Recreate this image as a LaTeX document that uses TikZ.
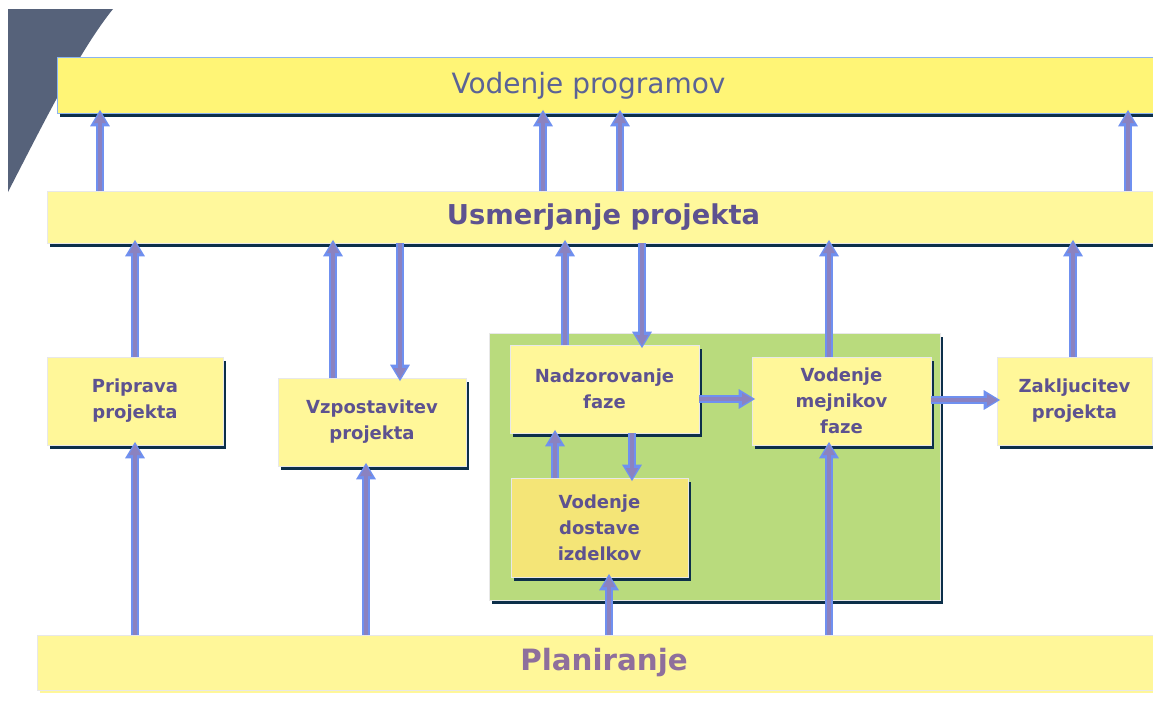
\documentclass[tikz,border=0pt]{standalone}
\usepackage{fontspec}
\setmainfont{DejaVu Sans}
\usetikzlibrary{arrows.meta,shadows,calc}
\definecolor{darkc}{HTML}{56627A}
\definecolor{topY}{HTML}{FFF576}
\definecolor{barY}{HTML}{FFF89C}
\definecolor{boxY}{HTML}{FFF799}
\definecolor{dosY}{HTML}{F4E577}
\definecolor{grnC}{HTML}{B9DB7D}
\definecolor{blueB}{HTML}{8CB4F0}
\definecolor{grayB}{HTML}{E8E8E8}
\definecolor{shdC}{HTML}{0C2F4A}
\definecolor{arrO}{HTML}{6F90F0}
\definecolor{arrI}{HTML}{8B82C0}
\definecolor{titC}{HTML}{5B6396}
\definecolor{txtC}{HTML}{5D5290}
\definecolor{plaC}{HTML}{8E6F9C}
\newcommand{\twoarrow}[2]{%
  \draw[arrout] #1 -- #2;
  \draw[arrin] #1 -- #2;}
\begin{document}
\begin{tikzpicture}[x=0.75pt,y=-0.75pt,
  every node/.style={inner sep=0pt,outer sep=0pt},
  shd/.style={drop shadow={shadow xshift=2.5pt,shadow yshift=-3pt,fill=shdC,opacity=1}},
  box/.style={shd,draw=grayB,line width=0.75pt,fill=boxY,minimum height=66pt,
    align=center,text=txtC,font=\bfseries\fontsize{13.5}{19.5}\selectfont},
  bar/.style={shd,draw=grayB,line width=0.75pt,fill=barY},
  arrout/.style={draw=arrO,line width=5.4pt,-{Triangle[width=14pt,length=12.5pt]},shorten >=-2.5pt},
  arrin/.style={draw=arrI,line width=2.8pt,-{Triangle[width=8.5pt,length=8pt]},shorten >=-0.5pt}]
\useasboundingbox (0,0) rectangle (1153,715);
\fill[white] (0,0) rectangle (1153,715);
\fill[darkc] (8,9) -- (113,9) .. controls (80,50) and (45,120) .. (8,192) -- cycle;
% bars
\node[bar,fill=topY,draw=blueB,minimum width=827.25pt,minimum height=42pt] (vp) at (608.5,85) {};
\node[text=titC,font=\fontsize{21}{25}\selectfont] (vpt) at (588.5,86) {Vodenje programov};
\node[bar,minimum width=834.75pt,minimum height=39pt,text=txtC,font=\bfseries\fontsize{20.5}{24}\selectfont] (usm) at (603.5,217) {Usmerjanje projekta};
\node[draw=grayB,line width=0.75pt,fill=boxY,minimum width=850.5pt,minimum height=41.25pt,
  drop shadow={shadow xshift=2.5pt,shadow yshift=-2.5pt,fill=boxY,opacity=1},
  text=plaC,font=\bfseries\fontsize{22}{26}\selectfont] (pla) at (604,662.5) {Planiranje};
% green container
\node[shd,draw=grayB,line width=0.75pt,fill=grnC,minimum width=338.25pt,minimum height=200.25pt] (grn) at (714.5,466.5) {};
% boxes
\node[box,minimum width=132pt] (pri) at (135,401) {Priprava\\projekta};
\node[box,minimum width=141pt] (vzp) at (372,422) {Vzpostavitev\\projekta};
\node[box,minimum width=141.75pt] (nad) at (604.5,389) {Nadzorovanje\\faze};
\node[box,minimum width=134.25pt] (mej) at (841.5,401) {Vodenje\\mejnikov\\faze};
\node[box,minimum width=132.75pt,minimum height=74.25pt,fill=dosY] (dos) at (599.5,527.5) {Vodenje\\dostave\\izdelkov};
\node[box,minimum width=116.25pt] (zak) at (1074.5,401) {Zakljucitev\\projekta};
% arrows usm -> vp
\twoarrow{(100,0 |- usm.north)}{(100,0 |- vp.south)}
\twoarrow{(543,0 |- usm.north)}{(543,0 |- vp.south)}
\twoarrow{(620,0 |- usm.north)}{(620,0 |- vp.south)}
\twoarrow{(1128,0 |- usm.north)}{(1128,0 |- vp.south)}
% boxes -> usm
\twoarrow{(pri.north)}{(pri.north |- usm.south)}
\twoarrow{(333,0 |- vzp.north)}{(333,0 |- usm.south)}
\twoarrow{(400,0 |- usm.south)}{(400,0 |- vzp.north)}
\twoarrow{(565,0 |- nad.north)}{(565,0 |- usm.south)}
\twoarrow{(642,0 |- usm.south)}{(642,0 |- nad.north)}
\twoarrow{(829,0 |- mej.north)}{(829,0 |- usm.south)}
\twoarrow{(1073,0 |- zak.north)}{(1073,0 |- usm.south)}
% pla -> boxes
\twoarrow{(pri.south |- pla.north)}{(pri.south)}
\twoarrow{(366,0 |- pla.north)}{(366,0 |- vzp.south)}
\twoarrow{(609,0 |- pla.north)}{(609,0 |- dos.south)}
\twoarrow{(829,0 |- pla.north)}{(829,0 |- mej.south)}
% inner arrows
\twoarrow{(555,0 |- dos.north)}{(555,0 |- nad.south)}
\twoarrow{(632,0 |- nad.south)}{(632,0 |- dos.north)}
\twoarrow{(nad.east |- 0,399)}{(mej.west |- 0,399)}
\twoarrow{(mej.east |- 0,400)}{(zak.west |- 0,400)}
\end{tikzpicture}
\end{document}
